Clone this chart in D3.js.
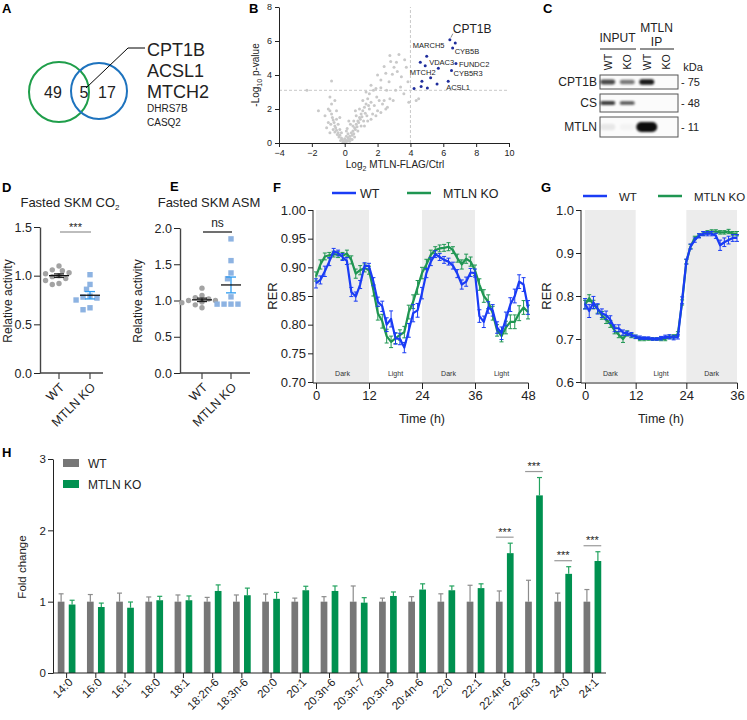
<!DOCTYPE html>
<html><head><meta charset="utf-8">
<script src="https://cdn.jsdelivr.net/npm/d3@7"></script>
<style>body{margin:0;background:#fff}</style>
</head><body>
<script>
// ---------------- DATA ----------------
const vennCounts=[49,5,17];
const vennGenesMajor=["CPT1B","ACSL1","MTCH2"];
const vennGenesMinor=["DHRS7B","CASQ2"];

const volcanoGray=[[0,0],[0.05,0.05],[-0.05,0.1],[0.1,0.15],[-0.1,0.05],[0.15,0.1],[0.2,0.3],[-0.15,0.2],[0.25,0.2],[-0.2,0.3],[0.3,0.4],[-0.25,0.15],[0.35,0.25],[0.1,0.4],[-0.3,0.45],[0.4,0.6],[-0.35,0.35],[0.45,0.45],[0.5,0.7],[-0.4,0.6],[0.55,0.55],[-0.45,0.5],[0.6,0.9],[-0.5,0.75],[0.65,0.8],[-0.55,0.9],[0.7,1.1],[-0.6,1.0],[0.75,0.95],[-0.65,1.2],[0.8,1.3],[-0.7,1.35],[0.85,1.2],[-0.75,1.5],[0.9,1.5],[-0.8,1.7],[0.95,1.4],[-0.85,1.1],[1.0,1.7],[-0.6,0.65],[1.05,1.55],[-0.5,1.4],[1.1,1.9],[-0.7,0.8],[1.15,1.3],[-0.9,1.9],[1.2,2.1],[-1.0,2.0],[1.25,1.75],[-1.2,1.6],[1.3,2.3],[-0.8,2.3],[1.35,1.6],[-0.9,2.7],[1.4,2.6],[-0.6,2.5],[1.5,2.0],[-0.8,3.65],[1.5,2.9],[-1.6,1.9],[1.6,2.4],[-2.3,3.1],[1.7,1.7],[1.75,3.1],[1.8,2.2],[1.9,3.2],[1.95,2.7],[2.0,1.9],[2.1,2.5],[2.2,3.25],[2.2,3.7],[2.3,2.3],[2.4,2.5],[2.5,4.1],[2.55,3.1],[2.6,2.1],[2.7,3.6],[2.75,2.6],[2.75,5.15],[2.9,4.05],[2.95,2.5],[3.0,4.45],[3.1,3.1],[3.15,4.75],[3.2,4.2],[3.3,5.2],[3.45,3.9],[3.6,2.9],[3.65,4.9],[3.75,4.45],[3.85,3.6],[4.35,2.5],[0.3,0.1],[0.45,0.2],[0.6,0.35],[0.2,0.55],[0.5,1.0],[0.8,0.7],[1.0,1.0],[1.2,1.0],[1.4,1.3],[-0.3,0.8],[-0.4,1.1],[-0.2,0.6],[0.0,0.25],[0.1,0.7],[0.35,1.1],[0.7,1.6],[0.9,2.0],[1.1,2.5],[-0.5,1.9],[-0.3,1.5],[1.6,1.4],[1.9,1.6],[2.2,1.8],[2.5,2.0],[1.3,3.0],[1.6,3.4],[2.0,4.0],[2.4,4.5],[2.8,4.8],[-1.0,1.2],[-1.1,0.9],[-0.9,0.6],[0.15,0.85],[0.25,1.3],[0.55,1.3],[0.65,1.9],[1.45,2.2],[3.4,3.3],[3.9,2.4],[4.5,2.6]];
const volcanoHits=[[6.4,6.08],[6.73,5.88],[6.57,5.59],[4.99,5.1],[4.6,4.75],[4.9,4.55],[5.7,4.4],[6.77,4.67],[6.5,4.27],[5.23,3.84],[4.7,3.63],[5.62,3.47],[6.3,3.63],[4.65,3.33],[5.03,3.24],[4.22,3.2]];
const hitLabels=["CPT1B","CYB5B","MARCH5","VDAC3","FUNDC2","MTCH2","CYB5R3","ACSL1"];
const hitLabelIndex=[0,2,3,5,7,9,8,12];
const volcanoXTicks=[-4,-2,0,2,4,6,8,10];
const volcanoYTicks=[0,2,4,6,8];
const volcanoCutX=4, volcanoCutY=3.1;

const blotLanes=["WT","KO","WT","KO"];
const blotGroups=["INPUT","MTLN IP"];
const blotProteins=["CPT1B","CS","MTLN"];
const blotKDa=["75","48","11"];
const blotIntensity=[[0.75,0.55,0.95,0],[0.8,0.7,0,0],[0.08,0.03,1,0]];

const dotGroups=["WT","MTLN KO"];
const co2WT=[1.10,1.06,1.05,1.03,1.02,1.0,0.99,0.97,0.95,0.92,0.91];
const co2KO=[1.01,0.91,0.86,0.79,0.78,0.77,0.75,0.67,0.65];
const asmWT=[1.17,1.07,1.04,1.02,1.0,1.0,0.98,0.97,0.94,0.9];
const asmKO=[1.85,1.55,1.38,1.3,1.05,0.95,0.95,0.95,0.95];

const fHours=d3.range(0,49);
const fWT=[0.872,0.878,0.893,0.91,0.928,0.925,0.918,0.911,0.857,0.849,0.87,0.903,0.902,0.875,0.84,0.832,0.80,0.81,0.776,0.775,0.76,0.79,0.82,0.825,0.855,0.89,0.91,0.923,0.918,0.913,0.91,0.903,0.889,0.87,0.875,0.891,0.89,0.815,0.805,0.83,0.825,0.795,0.785,0.81,0.835,0.85,0.875,0.87,0.83];
const fKO=[0.884,0.905,0.919,0.921,0.923,0.922,0.92,0.924,0.913,0.889,0.895,0.899,0.895,0.86,0.82,0.806,0.78,0.77,0.776,0.782,0.787,0.822,0.84,0.865,0.89,0.905,0.922,0.93,0.933,0.934,0.936,0.93,0.916,0.905,0.915,0.91,0.895,0.87,0.85,0.84,0.82,0.79,0.78,0.795,0.805,0.805,0.82,0.83,0.822];
const fWTsem=[0.008,0.007,0.009,0.007,0.005,0.005,0.006,0.006,0.008,0.008,0.007,0.005,0.005,0.007,0.008,0.009,0.012,0.014,0.01,0.01,0.009,0.012,0.015,0.012,0.01,0.008,0.007,0.006,0.006,0.006,0.006,0.006,0.007,0.008,0.008,0.007,0.007,0.011,0.01,0.01,0.01,0.01,0.011,0.012,0.012,0.012,0.012,0.012,0.012];
const fKOsem=[0.008,0.008,0.006,0.005,0.005,0.005,0.006,0.006,0.007,0.008,0.008,0.007,0.007,0.01,0.012,0.012,0.012,0.01,0.009,0.009,0.01,0.012,0.012,0.012,0.01,0.009,0.008,0.006,0.006,0.006,0.007,0.006,0.007,0.008,0.008,0.008,0.009,0.01,0.011,0.012,0.012,0.01,0.01,0.011,0.012,0.012,0.013,0.012,0.012];
const fPeriods=["Dark","Light","Dark","Light"];
const fYTicks=[0.70,0.75,0.80,0.85,0.90,0.95,1.00];
const fXTicks=[0,12,24,36,48];

const gHours=d3.range(0,37);
const gWT=[0.782,0.765,0.785,0.77,0.76,0.755,0.745,0.725,0.725,0.715,0.713,0.71,0.705,0.703,0.702,0.702,0.70,0.70,0.702,0.705,0.705,0.703,0.705,0.79,0.88,0.915,0.93,0.94,0.945,0.945,0.945,0.94,0.918,0.925,0.93,0.935,0.935];
const gKO=[0.78,0.795,0.78,0.77,0.755,0.745,0.735,0.72,0.71,0.70,0.713,0.708,0.705,0.70,0.70,0.70,0.70,0.70,0.70,0.70,0.705,0.705,0.712,0.785,0.88,0.915,0.935,0.94,0.945,0.948,0.95,0.95,0.948,0.948,0.95,0.945,0.945];
const gWTsem=[0.012,0.015,0.014,0.012,0.01,0.01,0.009,0.008,0.008,0.006,0.005,0.005,0.004,0.004,0.003,0.003,0.003,0.003,0.004,0.004,0.005,0.005,0.005,0.008,0.006,0.006,0.005,0.005,0.005,0.005,0.005,0.006,0.012,0.01,0.009,0.008,0.008];
const gKOsem=[0.01,0.008,0.01,0.01,0.009,0.009,0.008,0.008,0.007,0.008,0.006,0.005,0.004,0.004,0.004,0.003,0.003,0.003,0.004,0.004,0.004,0.005,0.005,0.006,0.005,0.005,0.004,0.004,0.004,0.004,0.004,0.004,0.004,0.004,0.005,0.005,0.005];
const gPeriods=["Dark","Light","Dark"];
const gYTicks=[0.6,0.7,0.8,0.9,1.0];
const gXTicks=[0,12,24,36];

const hCats=["14:0","16:0","16:1","18:0","18:1","18:2n-6","18:3n-6","20:0","20:1","20:3n-6","20:3n-7","20:3n-9","20:4n-6","22:0","22:1","22:4n-6","22:6n-3","24:0","24:1"];
const hWT=[1,1,1,1,1,1,1,1,1,1,1,1,1,1,1,1,1,1,1];
const hWTerr=[0.11,0.10,0.12,0.066,0.094,0.06,0.094,0.108,0.05,0.07,0.22,0.05,0.07,0.11,0.23,0.15,0.30,0.12,0.17];
const hKO=[0.96,0.925,0.915,1.02,1.02,1.15,1.09,1.04,1.16,1.15,0.986,1.08,1.17,1.16,1.19,1.68,2.49,1.39,1.57];
const hKOerr=[0.06,0.055,0.08,0.055,0.06,0.085,0.10,0.09,0.056,0.07,0.07,0.056,0.08,0.06,0.06,0.14,0.25,0.10,0.13];
const hSig=["22:4n-6","22:6n-3","24:0","24:1"];
const hYTicks=[0,1,2,3];

// ---------------- DRAW ----------------
const FONT="'Liberation Sans', Arial, Helvetica, sans-serif";
const INK="#222";
const BLUE="#1a3cf5", GREEN="#1f9652";
const svg=d3.select("body").append("svg").attr("width",747).attr("height",720)
  .style("font-family",FONT);
svg.append("rect").attr("width",747).attr("height",720).attr("fill","#fff");
const defs=svg.append("defs");
defs.append("filter").attr("id","blur").attr("x","-50%").attr("y","-100%").attr("width","200%").attr("height","300%")
  .append("feGaussianBlur").attr("stdDeviation",1.1);

function styleAxis(sel,fs){
  sel.attr("font-family",null).attr("font-size",fs);
  sel.selectAll("path.domain").attr("stroke",INK).attr("stroke-width",1);
  sel.selectAll(".tick line").attr("stroke",INK).attr("stroke-width",1);
  sel.selectAll(".tick text").attr("fill",INK);
}

// panel letters
[["A",2,13],["B",249,13],["C",543,13],["D",2,192],["E",170,191],["F",273,192],["G",541,192],["H",2,457]]
 .forEach(([t,x,y])=>svg.append("text").attr("x",x).attr("y",y).attr("font-size",13).attr("font-weight","bold").text(t));

// ---- A: Venn ----
(function(){
  const g=svg.append("g");
  g.append("circle").attr("cx",59).attr("cy",92).attr("r",30).attr("fill","none").attr("stroke","#1f9e4a").attr("stroke-width",2);
  g.append("circle").attr("cx",99).attr("cy",91).attr("r",28).attr("fill","none").attr("stroke","#1e73be").attr("stroke-width",2);
  const cx=[53,84,107];
  vennCounts.forEach((c,i)=>g.append("text").attr("x",cx[i]).attr("y",98).attr("text-anchor","middle").attr("font-size",16).attr("fill",INK).text(c));
  g.append("path").attr("d","M86,88 L128,48 L145,48").attr("fill","none").attr("stroke","#000").attr("stroke-width",1);
  vennGenesMajor.forEach((t,i)=>g.append("text").attr("x",147).attr("y",56+i*21).attr("font-size",18).attr("fill",INK).text(t));
  vennGenesMinor.forEach((t,i)=>g.append("text").attr("x",147).attr("y",112+i*14).attr("font-size",10).attr("fill",INK).text(t));
})();

// ---- B: Volcano ----
(function(){
  const g=svg.append("g");
  const x=d3.scaleLinear().domain([-4,10]).range([279,509]);
  const y=d3.scaleLinear().domain([0,8]).range([143,7]);
  g.append("line").attr("x1",x(volcanoCutX)).attr("x2",x(volcanoCutX)).attr("y1",y(0)).attr("y2",y(8))
    .attr("stroke","#c8c8c8").attr("stroke-dasharray","3,2");
  g.append("line").attr("x1",x(-4)).attr("x2",x(10)).attr("y1",y(volcanoCutY)).attr("y2",y(volcanoCutY))
    .attr("stroke","#c8c8c8").attr("stroke-dasharray","3,2");
  g.selectAll("circle.gray").data(volcanoGray).join("circle").attr("class","gray")
    .attr("cx",d=>x(d[0])).attr("cy",d=>y(d[1])).attr("r",1.5).attr("fill","#c9c9c9");
  g.selectAll("circle.hit").data(volcanoHits).join("circle").attr("class","hit")
    .attr("cx",d=>x(d[0])).attr("cy",d=>y(d[1])).attr("r",1.5).attr("fill","#1f2d9c");
  const off={CPT1B:[3,-7,"start",12],CYB5B:[2,6,"start",7.5],MARCH5:[2,-8,"middle",7.5],VDAC3:[4,-1,"start",7.5],FUNDC2:[3,3,"start",7.5],MTCH2:[5,-3,"end",7.5],CYB5R3:[2,6,"start",7.5],ACSL1:[-2,9,"start",7.5]};
  hitLabels.forEach((n,i)=>{
    const p=volcanoHits[hitLabelIndex[i]], o=off[n];
    g.append("text").attr("x",x(p[0])+o[0]).attr("y",y(p[1])+o[1]).attr("text-anchor",o[2]).attr("font-size",o[3]).attr("fill",INK).text(n);
  });
  const c=volcanoHits[hitLabelIndex[0]];
  g.append("line").attr("x1",x(c[0])+1).attr("y1",y(c[1])-2).attr("x2",x(c[0])+3).attr("y2",y(c[1])-6).attr("stroke","#444").attr("stroke-width",0.6);
  const xa=g.append("g").attr("transform",`translate(0,${y(0)})`).call(d3.axisBottom(x).tickValues(volcanoXTicks).tickFormat(d3.format("d")).tickSize(4).tickSizeOuter(0));
  styleAxis(xa,9);
  const ya=g.append("g").attr("transform",`translate(${x(-4)},0)`).call(d3.axisLeft(y).tickValues(volcanoYTicks).tickFormat(d3.format("d")).tickSize(4).tickSizeOuter(0));
  styleAxis(ya,9);
  const xl=g.append("text").attr("x",395).attr("y",168).attr("text-anchor","middle").attr("font-size",10).attr("fill",INK);
  xl.append("tspan").text("Log");
  xl.append("tspan").attr("font-size",7).attr("dy",3).text("2");
  xl.append("tspan").attr("dy",-3).text(" MTLN-FLAG/Ctrl");
  const yl=g.append("text").attr("transform","translate(259,75) rotate(-90)").attr("text-anchor","middle").attr("font-size",10).attr("fill",INK);
  yl.append("tspan").text("-Log");
  yl.append("tspan").attr("font-size",7).attr("dy",3).text("10");
  yl.append("tspan").attr("dy",-3).text(" p-value");
})();

// ---- C: Western blot ----
(function(){
  const g=svg.append("g");
  const x=d3.scaleBand().domain(d3.range(blotLanes.length)).range([598,676]);
  const rows=[{y0:75,y1:89,cy:82,h:4.5},{y0:94,y1:112,cy:103,h:3.5},{y0:117,y1:137,cy:127,h:9}];
  const mid=i=>x(i)+x.bandwidth()/2;
  g.append("text").attr("x",(mid(0)+mid(1))/2).attr("y",42).attr("text-anchor","middle").attr("font-size",12).attr("fill",INK).text(blotGroups[0]);
  const ip=blotGroups[1].split(" ");
  g.append("text").attr("x",(mid(2)+mid(3))/2).attr("y",32).attr("text-anchor","middle").attr("font-size",12).attr("fill",INK).text(ip[0]);
  g.append("text").attr("x",(mid(2)+mid(3))/2).attr("y",46).attr("text-anchor","middle").attr("font-size",12).attr("fill",INK).text(ip[1]);
  g.append("line").attr("x1",600).attr("x2",636).attr("y1",49).attr("y2",49).attr("stroke",INK);
  g.append("line").attr("x1",640).attr("x2",674).attr("y1",49).attr("y2",49).attr("stroke",INK);
  blotLanes.forEach((l,i)=>g.append("text").attr("transform",`translate(${mid(i)+4},62) rotate(-90)`).attr("text-anchor","middle").attr("font-size",10.5).attr("fill",INK).text(l));
  g.append("text").attr("x",693).attr("y",71).attr("text-anchor","middle").attr("font-size",11).attr("fill",INK).text("kDa");
  blotProteins.forEach((p,r)=>{
    const R=rows[r];
    g.append("rect").attr("x",600).attr("y",R.y0).attr("width",78).attr("height",R.y1-R.y0).attr("fill","#fbfbfb").attr("stroke","#555").attr("stroke-width",1);
    g.append("text").attr("x",597).attr("y",R.cy+4).attr("text-anchor","end").attr("font-size",12).attr("fill",INK).text(p);
    g.append("text").attr("x",681).attr("y",R.cy+4).attr("font-size",11).attr("fill",INK).text("- "+blotKDa[r]);
    blotIntensity[r].forEach((v,i)=>{
      if(v<=0) return;
      const big=v>0.9 && r===2;
      const w=big?21:15, h=big?R.h+1:R.h*(0.7+0.5*v);
      g.append("rect").attr("x",mid(i)-w/2).attr("y",R.cy-h/2).attr("width",w).attr("height",h).attr("rx",h/2)
        .attr("fill","#000").attr("opacity",Math.min(1,v*0.95)).attr("filter","url(#blur)");
    });
  });
})();

// ---- D / E: dot plots ----
function swarm(vals,y,cx,d){
  const placed=[];
  return vals.map(v=>{
    const py=y(v); let px=cx;
    for(let k=0;k<30;k++){
      const cand=cx+(k===0?0:(k%2?-1:1)*Math.ceil(k/2)*d*0.6);
      if(placed.every(p=>Math.hypot(p[0]-cand,p[1]-py)>=d)){px=cand;break;}
    }
    placed.push([px,py]); return [px,py];
  });
}
function dotPanel(o){
  const g=svg.append("g");
  const y=d3.scaleLinear().domain([0,o.max]).range([373,o.yTop]);
  const x=d3.scalePoint().domain(dotGroups).range(o.xr);
  const ya=g.append("g").attr("transform",`translate(${o.ax},0)`).call(d3.axisLeft(y).tickValues(o.ticks).tickFormat(d3.format(".1f")).tickSize(6).tickSizeOuter(0).tickPadding(2));
  styleAxis(ya,12.5);
  ya.select(".domain").attr("stroke","#444").attr("stroke-width",1.4);
  g.append("line").attr("x1",o.ax).attr("x2",o.xEnd).attr("y1",373).attr("y2",373).attr("stroke","#444").attr("stroke-width",1.4);
  dotGroups.forEach(c=>{
    g.append("line").attr("x1",x(c)).attr("x2",x(c)).attr("y1",373).attr("y2",379).attr("stroke","#444").attr("stroke-width",1.2);
    g.append("text").attr("transform",`translate(${x(c)+3},${385}) rotate(-45)`).attr("text-anchor","end").attr("dy","0.35em").attr("font-size",12.5).attr("fill",INK).text(c);
  });
  swarm(o.wt,y,x("WT"),5.6).forEach(p=>g.append("circle").attr("cx",p[0]).attr("cy",p[1]).attr("r",2.7).attr("fill","#a3a3a3"));
  swarm(o.ko,y,x("MTLN KO"),5.8).forEach(p=>g.append("rect").attr("x",p[0]-2.7).attr("y",p[1]-2.7).attr("width",5.4).attr("height",5.4).attr("fill","#8db3e2"));
  [[o.wt,"WT","#222"],[o.ko,"MTLN KO","#2d9bf0"]].forEach(([vals,c,col])=>{
    const m=d3.mean(vals), s=d3.deviation(vals)/Math.sqrt(vals.length), cx=x(c);
    g.append("line").attr("x1",cx).attr("x2",cx).attr("y1",y(m-s)).attr("y2",y(m+s)).attr("stroke",col).attr("stroke-width",1.3);
    [m-s,m+s].forEach(v=>g.append("line").attr("x1",cx-5).attr("x2",cx+5).attr("y1",y(v)).attr("y2",y(v)).attr("stroke",col).attr("stroke-width",1.3));
    g.append("line").attr("x1",cx-10).attr("x2",cx+10).attr("y1",y(m)).attr("y2",y(m)).attr("stroke","#111").attr("stroke-width",1.3);
  });
  g.append("line").attr("x1",x("WT")+1).attr("x2",x("MTLN KO")+1).attr("y1",232).attr("y2",232).attr("stroke",o.sigCol).attr("stroke-width",1.3);
  g.append("text").attr("x",(x("WT")+x("MTLN KO"))/2+1).attr("y",o.sigY).attr("text-anchor","middle").attr("font-size",o.sigFs).attr("fill",INK).text(o.sig);
  const t=g.append("text").attr("x",o.tx).attr("y",207).attr("text-anchor","middle").attr("font-size",13).attr("fill",INK);
  t.append("tspan").text(o.title);
  if(o.sub){t.append("tspan").attr("font-size",8).attr("dy",3).text(o.sub);}
  g.append("text").attr("transform",`translate(${o.ylx},301) rotate(-90)`).attr("text-anchor","middle").attr("dy","0.35em").attr("font-size",12).attr("fill",INK).text("Relative activity");
}
dotPanel({max:1.5,yTop:227,ticks:[0,0.5,1.0,1.5],ax:40,xr:[59,90],xEnd:103,wt:co2WT,ko:co2KO,sig:"***",sigY:231,sigFs:11,sigCol:"#999",title:"Fasted SKM CO",sub:"2",tx:70,ylx:8});
dotPanel({max:2.0,yTop:228,ticks:[0,0.5,1.0,1.5,2.0],ax:180,xr:[202,231],xEnd:250,wt:asmWT,ko:asmKO,sig:"ns",sigY:227,sigFs:12,sigCol:"#222",title:"Fasted SKM ASM",sub:null,tx:209,ylx:138});

// ---- F / G: RER ----
function rerPanel(o){
  const g=svg.append("g");
  const x=d3.scaleLinear().domain(o.xd).range(o.xr);
  const y=d3.scaleLinear().domain(o.yd).range([382,210]);
  o.periods.forEach((p,i)=>{
    const a=x(i*12), b=x((i+1)*12);
    if(p==="Dark") g.append("rect").attr("x",a).attr("y",210).attr("width",b-a).attr("height",172).attr("fill","#ececec");
    g.append("text").attr("x",(a+b)/2).attr("y",376).attr("text-anchor","middle").attr("font-size",7).attr("fill","#333").text(p);
  });
  [[o.ko,o.koE,GREEN],[o.wt,o.wtE,BLUE]].forEach(([vals,err,col])=>{
    const gg=g.append("g");
    o.hours.forEach((h,i)=>{
      const cx=x(h);
      gg.append("line").attr("x1",cx).attr("x2",cx).attr("y1",y(vals[i]-err[i])).attr("y2",y(vals[i]+err[i])).attr("stroke",col).attr("stroke-width",1);
      [vals[i]-err[i],vals[i]+err[i]].forEach(v=>gg.append("line").attr("x1",cx-2).attr("x2",cx+2).attr("y1",y(v)).attr("y2",y(v)).attr("stroke",col).attr("stroke-width",1));
    });
    gg.append("path").datum(vals).attr("d",d3.line().x((d,i)=>x(o.hours[i])).y(d=>y(d))).attr("fill","none").attr("stroke",col).attr("stroke-width",2.2).attr("stroke-linejoin","round");
  });
  const ya=g.append("g").attr("transform",`translate(${o.ax},0)`).call(d3.axisLeft(y).tickValues(o.yt).tickFormat(d3.format(o.fmt)).tickSize(5).tickSizeOuter(0).tickPadding(2));
  styleAxis(ya,13);
  ya.select(".domain").attr("d",`M0,383V210`);
  const xa=g.append("g").attr("transform",`translate(0,383)`).call(d3.axisBottom(x).tickValues(o.xt).tickFormat(d3.format("d")).tickSize(6).tickSizeOuter(0).tickPadding(2));
  styleAxis(xa,13);
  xa.select(".domain").attr("d",`M${o.ax},0H${x(o.xd[1])+0.5}`);
  g.append("text").attr("x",(x(o.xd[0])+x(o.xd[1]))/2).attr("y",423).attr("text-anchor","middle").attr("font-size",12.5).attr("fill",INK).text("Time (h)");
  g.append("text").attr("transform",`translate(${o.rerX},296) rotate(-90)`).attr("text-anchor","middle").attr("dy","0.35em").attr("font-size",13).attr("fill",INK).text("RER");
  const L=o.leg;
  g.append("line").attr("x1",L[0]).attr("x2",L[0]+24).attr("y1",L[4]).attr("y2",L[4]).attr("stroke",BLUE).attr("stroke-width",2.5);
  g.append("text").attr("x",L[1]).attr("y",L[4]+4.5).attr("font-size",L[5]).attr("fill",INK).text("WT");
  g.append("line").attr("x1",L[2]).attr("x2",L[2]+24).attr("y1",L[4]).attr("y2",L[4]).attr("stroke",GREEN).attr("stroke-width",2.5);
  g.append("text").attr("x",L[3]).attr("y",L[4]+4.5).attr("font-size",L[5]).attr("fill",INK).text("MTLN KO");
}
rerPanel({xd:[0,48],xr:[316,528],yd:[0.7,1.0],hours:fHours,wt:fWT,ko:fKO,wtE:fWTsem,koE:fKOsem,periods:fPeriods,yt:fYTicks,fmt:".2f",xt:fXTicks,ax:313,rerX:272,leg:[332,360,407,443,193,12.5]});
rerPanel({xd:[0,36],xr:[585,737],yd:[0.6,1.0],hours:gHours,wt:gWT,ko:gKO,wtE:gWTsem,koE:gKOsem,periods:gPeriods,yt:gYTicks,fmt:".1f",xt:gXTicks,ax:581,rerX:546,leg:[583,619,658,694,196,11.5]});

// ---- H: bar chart ----
(function(){
  const g=svg.append("g");
  const x=d3.scaleBand().domain(hCats).range([52,607]);
  const sub=d3.scaleBand().domain(["WT","KO"]).range([-8.85,8.85]).paddingInner(0.39);
  const y=d3.scaleLinear().domain([0,3]).range([673,459]);
  const series=[["WT",hWT,hWTerr,"#777777","#8c8c8c"],["KO",hKO,hKOerr,"#009150","#23a35f"]];
  series.forEach(([k,vals,errs,col,ecol])=>{
    hCats.forEach((c,i)=>{
      const bx=x(c)+x.bandwidth()/2+sub(k), bw=sub.bandwidth(), cx=bx+bw/2;
      g.append("line").attr("x1",cx).attr("x2",cx).attr("y1",y(vals[i])).attr("y2",y(vals[i]+errs[i])).attr("stroke",ecol).attr("stroke-width",1.2);
      g.append("line").attr("x1",cx-2.5).attr("x2",cx+2.5).attr("y1",y(vals[i]+errs[i])).attr("y2",y(vals[i]+errs[i])).attr("stroke",ecol).attr("stroke-width",1.2);
      g.append("rect").attr("x",bx).attr("y",y(vals[i])).attr("width",bw).attr("height",y(0)-y(vals[i])).attr("fill",col);
    });
  });
  hSig.forEach(c=>{
    const i=hCats.indexOf(c);
    const x0=x(c)+x.bandwidth()/2+sub("WT"), x1=x(c)+x.bandwidth()/2+sub("KO")+sub.bandwidth();
    const ly=y(hKO[i]+hKOerr[i])-6;
    g.append("line").attr("x1",x0).attr("x2",x1).attr("y1",ly).attr("y2",ly).attr("stroke","#999").attr("stroke-width",1.2);
    g.append("text").attr("x",(x0+x1)/2).attr("y",ly-1.5).attr("text-anchor","middle").attr("font-size",11).attr("fill",INK).text("***");
  });
  const ya=g.append("g").attr("transform","translate(53,0)").call(d3.axisLeft(y).tickValues(hYTicks).tickFormat(d3.format("d")).tickSize(5).tickSizeOuter(0).tickPadding(2));
  styleAxis(ya,11.5);
  const xa=g.append("g").attr("transform","translate(0,673)").call(d3.axisBottom(x).tickSize(5).tickSizeOuter(0));
  styleAxis(xa,11.5);
  xa.select(".domain").attr("d","M53,0H606");
  xa.selectAll(".tick text").attr("text-anchor","end").attr("transform","translate(4,7) rotate(-45)").attr("dy","0.35em").attr("y",0).attr("x",0);
  g.append("text").attr("transform","translate(22,567) rotate(-90)").attr("text-anchor","middle").attr("dy","0.35em").attr("font-size",11.5).attr("fill",INK).text("Fold change");
  [["WT","#777777",463],["MTLN KO","#009150",484]].forEach(([t,c,yy])=>{
    g.append("rect").attr("x",63).attr("y",yy-4).attr("width",16).attr("height",8).attr("fill",c);
    g.append("text").attr("x",88).attr("y",yy+4.5).attr("font-size",12).attr("fill",INK).text(t);
  });
})();
</script>
</body></html>
